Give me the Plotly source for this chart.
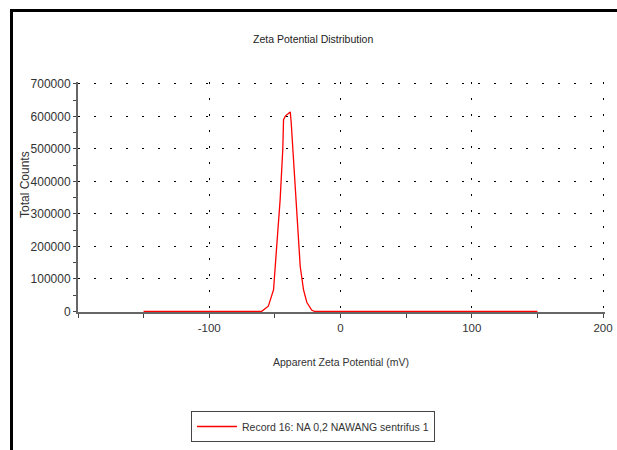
import plotly.graph_objects as go

# Data
zeta_mv = [-150, -60, -55, -51, -48.8, -46, -44, -43.4, -41.9, -39.6, -38.3,
           -37.6, -35.8, -33.3, -30.7, -28.2, -25.7, -22, -20, 150]
total_counts = [0, 0, 16000, 67000, 190000, 344000, 497000, 590000, 602000,
                611000, 614000, 583000, 457000, 304000, 138000, 67000, 28000,
                4000, 0, 0]
series_name = "Record 16: NA 0,2 NAWANG sentrifus 1"
x_tick_vals = [-100, 0, 100, 200]
y_tick_vals = [0, 100000, 200000, 300000, 400000, 500000, 600000, 700000]

FONT = "Liberation Sans, Arial, sans-serif"

fig = go.Figure()
fig.add_trace(go.Scatter(
    x=zeta_mv, y=total_counts, mode="lines", name=series_name,
    line=dict(color="#ff0000", width=1.3), showlegend=True,
))

W, H = 617, 450
L, R, T, B = 78, 12, 82, 138
pw, ph = W - L - R, H - T - B

def px(x):
    return (x - L) / pw

def py(y):
    return (H - B - y) / ph

fig.update_layout(
    width=W, height=H,
    margin=dict(l=L, r=R, t=T, b=B, autoexpand=False),
    paper_bgcolor="white", plot_bgcolor="white",
    font=dict(family=FONT, size=12, color="#333333"),
    showlegend=True,
    legend=dict(x=px(191), y=py(411), xanchor="left", yanchor="top",
                bordercolor="#444444", borderwidth=1, bgcolor="white",
                font=dict(size=10.5, color="#333333"), itemwidth=40),
    xaxis=dict(
        range=[-200, 201.5], tickvals=x_tick_vals, ticktext=[str(v) for v in x_tick_vals],
        showline=True, linecolor="#666666", linewidth=2, layer="below traces",
        ticks="outside", ticklen=4, tickcolor="#444444",
        minor=dict(dtick=50, tick0=0, ticks="outside", ticklen=4, tickcolor="#444444", showgrid=False),
        showgrid=True, gridcolor="#000000", gridwidth=1, griddash="2px,14px",
        zeroline=False, tickfont=dict(size=11.5, color="#333333"), automargin=False,
    ),
    yaxis=dict(
        range=[-2000, 706000], tickvals=y_tick_vals, ticktext=[str(v) for v in y_tick_vals],
        showline=True, linecolor="#666666", linewidth=2, layer="below traces",
        ticks="outside", ticklen=3, tickcolor="#444444",
        minor=dict(dtick=50000, tick0=0, ticks="outside", ticklen=3, tickcolor="#444444", showgrid=False),
        showgrid=True, gridcolor="#000000", gridwidth=1, griddash="2px,14px",
        zeroline=False, tickfont=dict(size=12, color="#333333"), automargin=False,
    ),
    annotations=[
        dict(text="Zeta Potential Distribution", xref="paper", yref="paper",
             x=px(313), y=py(39), xanchor="center", yanchor="middle", showarrow=False,
             font=dict(size=10.5, color="#222222")),
        dict(text="Apparent Zeta Potential (mV)", xref="paper", yref="paper",
             x=px(341), y=py(362), xanchor="center", yanchor="middle", showarrow=False,
             font=dict(size=10.5, color="#333333")),
        dict(text="Total Counts", xref="paper", yref="paper", textangle=-90,
             x=px(25), y=py(185), xanchor="center", yanchor="middle", showarrow=False,
             font=dict(size=12, color="#333333")),
    ],
    shapes=[
        dict(type="line", xref="paper", yref="paper", x0=px(10), x1=px(617),
             y0=py(10.5), y1=py(10.5), line=dict(color="black", width=3)),
        dict(type="line", xref="paper", yref="paper", x0=px(11.5), x1=px(11.5),
             y0=py(9), y1=py(450), line=dict(color="black", width=3)),
    ],
)

fig.write_html(
    "out.html",
    config={"displayModeBar": False},
    post_script="document.body.style.margin='0';document.body.style.overflow='hidden';",
)
